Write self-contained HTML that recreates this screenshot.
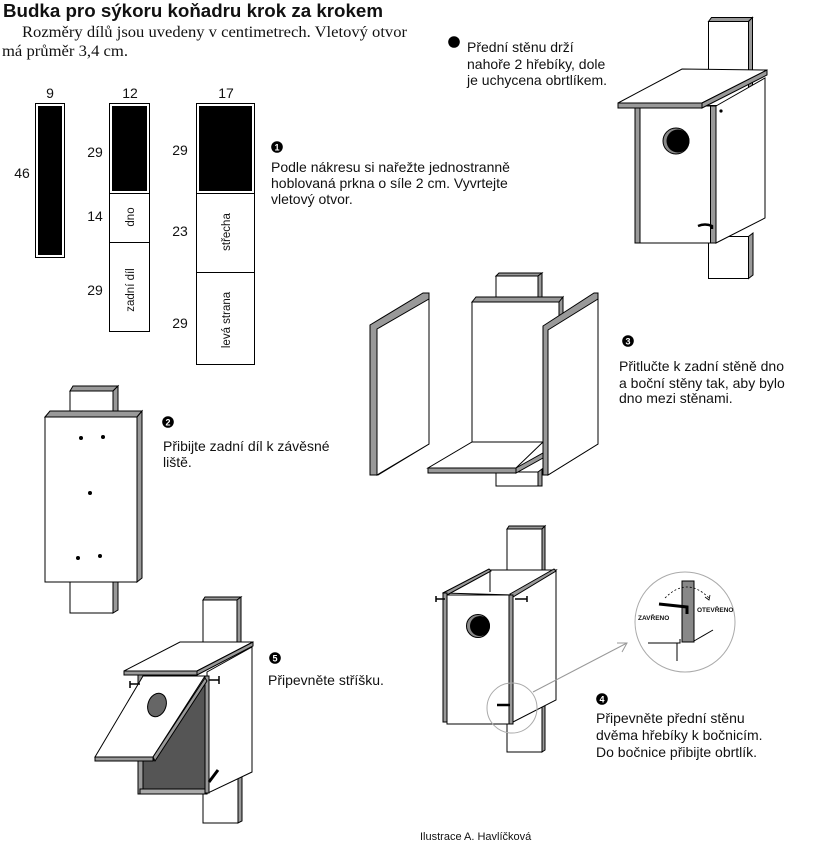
<!DOCTYPE html>
<html><head><meta charset="utf-8"><style>
html,body{margin:0;padding:0;background:#fff;}
svg{display:block;}
text{font-family:"Liberation Sans",Arial,sans-serif;fill:#111;}
.s{font-size:14px;}
.d{font-size:14px;}
.r{font-size:11.5px;}
.g{fill:#999;stroke:#000;stroke-width:1;}
.w{fill:#fff;stroke:#000;stroke-width:1;}
.k{fill:#000;}
</style></head><body>
<svg width="814" height="843" viewBox="0 0 814 843" xmlns="http://www.w3.org/2000/svg">
<rect x="0" y="0" width="814" height="843" fill="#fff"/>

<!-- Header -->
<text x="3" y="17" style="font-size:18px;font-weight:bold" textLength="380" lengthAdjust="spacingAndGlyphs">Budka pro sýkoru koňadru krok za krokem</text>
<text x="22" y="37" style="font-family:'Liberation Serif',serif;font-size:15.5px" textLength="385" lengthAdjust="spacingAndGlyphs">Rozměry dílů jsou uvedeny v centimetrech. Vletový otvor</text>
<text x="2" y="56" style="font-family:'Liberation Serif',serif;font-size:15.5px" textLength="126" lengthAdjust="spacingAndGlyphs">má průměr 3,4 cm.</text>

<!-- Boards -->
<text class="d" x="50" y="98" text-anchor="middle">9</text>
<text class="d" x="130" y="98" text-anchor="middle">12</text>
<text class="d" x="226" y="98" text-anchor="middle">17</text>
<text class="d" x="22" y="178" text-anchor="middle">46</text>
<text class="d" x="95" y="157" text-anchor="middle">29</text>
<text class="d" x="95" y="221" text-anchor="middle">14</text>
<text class="d" x="95" y="295" text-anchor="middle">29</text>
<text class="d" x="180" y="155" text-anchor="middle">29</text>
<text class="d" x="180" y="236" text-anchor="middle">23</text>
<text class="d" x="180" y="328" text-anchor="middle">29</text>

<rect x="35.5" y="103.5" width="29" height="154" class="w"/>
<rect x="38" y="106" width="24" height="149" class="k"/>

<rect x="109.5" y="103.5" width="40" height="228" class="w"/>
<rect x="112" y="106" width="35" height="85" class="k"/>
<line x1="109.5" y1="193.5" x2="149.5" y2="193.5" stroke="#000"/>
<line x1="109.5" y1="242.5" x2="149.5" y2="242.5" stroke="#000"/>
<text class="r" transform="translate(134,217) rotate(-90)" text-anchor="middle">dno</text>
<text class="r" transform="translate(134,290) rotate(-90)" text-anchor="middle">zadní díl</text>

<rect x="196.5" y="103.5" width="58" height="261" class="w"/>
<rect x="199" y="106" width="53" height="85" class="k"/>
<line x1="196.5" y1="193.5" x2="254.5" y2="193.5" stroke="#000"/>
<line x1="196.5" y1="272.5" x2="254.5" y2="272.5" stroke="#000"/>
<text class="r" transform="translate(230,232) rotate(-90)" text-anchor="middle">střecha</text>
<text class="r" transform="translate(230,320) rotate(-90)" text-anchor="middle">levá strana</text>

<!-- Step 1 text -->
<circle cx="277" cy="147" r="5.8" fill="#000"/>
<text x="277" y="150.5" text-anchor="middle" style="font-size:9px;font-weight:bold;fill:#fff">1</text>
<text class="s" x="271" y="172">Podle nákresu si nařežte jednostranně</text>
<text class="s" x="271" y="188">hoblovaná prkna o síle 2 cm. Vyvrtejte</text>
<text class="s" x="271" y="204">vletový otvor.</text>

<!-- Top right note -->
<circle cx="454" cy="42" r="5.8" fill="#000"/>
<text class="s" x="467" y="52">Přední stěnu drží</text>
<text class="s" x="467" y="69">nahoře 2 hřebíky, dole</text>
<text class="s" x="467" y="85">je uchycena obrtlíkem.</text>

<!-- Top right birdhouse -->
<rect x="708.5" y="21.5" width="40" height="84" class="w"/>
<polygon points="708.5,21.5 711.5,17.5 752.5,17.5 748.5,21.5" class="g"/>
<polygon points="748.5,21.5 752.5,17.5 752.5,100 748.5,105" class="g"/>
<rect x="708.5" y="236.5" width="40" height="42" class="w"/>
<polygon points="748.5,236.5 753,233 753,275 748.5,278.5" class="g"/>
<polygon points="716,106 765,78 765,218 716,243" class="w"/>
<rect x="635" y="106" width="81" height="137" class="w"/>
<rect x="635" y="106" width="5" height="137" class="g"/>
<rect x="710.5" y="106" width="5.5" height="137" class="g"/>
<polygon points="618,103 682,69 767,70 702,103" class="w"/>
<polygon points="618,103 702,103 702,108 618,108" class="g"/>
<polygon points="702,103 767,70 767,75 702,108" class="g"/>
<circle cx="676" cy="141" r="13" fill="#888" stroke="#000"/>
<circle cx="678" cy="141" r="11.5" fill="#000"/>
<circle cx="721" cy="111" r="1.6" fill="#000"/>
<path d="M698,226 Q705,223 712,226 L712,229" fill="none" stroke="#000" stroke-width="2.4"/>

<!-- Step 3 -->
<polygon points="370,325 423,293 429,293 429,444 378,475 370,475" class="g"/>
<polygon points="377,329 429,299 429,444 377,475" class="w"/>

<rect x="496" y="276" width="42" height="22" class="w"/>
<polygon points="496,276 499,273 542,273 538,276" class="g"/>
<polygon points="538,276 542,273 542,298 538,298" class="g"/>
<rect x="472" y="302" width="87" height="141" class="w"/>
<polygon points="472,302 476,297 563,297 559,302" class="g"/>
<polygon points="559,302 563,297 563,440 559,443" class="g"/>
<rect x="496" y="472" width="42" height="14" class="w"/>
<polygon points="538,472 542,469 542,486 538,486" class="g"/>
<polygon points="472,442 543,442 516,468 428,468" class="w"/>
<polygon points="428,468 516,468 516,473 428,473" class="g"/>
<polygon points="516,468 543,453 543,458 516,473" class="g"/>

<polygon points="543,326 594,293 598,293 598,444 548,475 543,475" class="g"/>
<polygon points="548,330 598,299 598,444 548,475" class="w"/>

<circle cx="628" cy="341" r="5.8" fill="#000"/>
<text x="628" y="344.5" text-anchor="middle" style="font-size:9px;font-weight:bold;fill:#fff">3</text>
<text class="s" x="619" y="371">Přitlučte k zadní stěně dno</text>
<text class="s" x="619" y="388">a boční stěny tak, aby bylo</text>
<text class="s" x="619" y="403">dno mezi stěnami.</text>

<!-- Step 2 -->
<rect x="70" y="391" width="43" height="22" class="w"/>
<polygon points="70,391 73,386 118,386 113,391" class="g"/>
<polygon points="113,391 118,386 118,412 113,413" class="g"/>
<rect x="70" y="581" width="43" height="32" class="w"/>
<polygon points="113,581 118,581 118,610 113,613" class="g"/>
<rect x="45" y="417" width="92" height="165" class="w"/>
<polygon points="45,417 50,411 142,411 137,417" class="g"/>
<polygon points="137,417 142,411 142,578 137,582" class="g"/>
<circle cx="81" cy="438" r="2" fill="#000"/>
<circle cx="103" cy="437" r="2" fill="#000"/>
<circle cx="90" cy="493" r="2" fill="#000"/>
<circle cx="78" cy="558" r="2" fill="#000"/>
<circle cx="100" cy="556" r="2" fill="#000"/>

<circle cx="168" cy="422" r="5.8" fill="#000"/>
<text x="168" y="425.5" text-anchor="middle" style="font-size:9px;font-weight:bold;fill:#fff">2</text>
<text class="s" x="163" y="451">Přibijte zadní díl k závěsné</text>
<text class="s" x="163" y="467">lištĕ.</text>

<!-- Step 5 -->
<rect x="203" y="600" width="34" height="45" class="w"/>
<polygon points="203,600 205,597 241,597 237,600" class="g"/>
<polygon points="237,600 241,597 241,645 237,645" class="g"/>
<rect x="203" y="770" width="35" height="53" class="w"/>
<polygon points="238,770 242,768 242,821 238,823" class="g"/>
<polygon points="207,672 252,647 252,772 208,793" class="w"/>
<polygon points="143,761 153,761 205,683 205,790 143,790" fill="#555" stroke="#000"/>
<rect x="138" y="675" width="5" height="119" class="g"/>
<rect x="140" y="789" width="67" height="5" fill="#aaa" stroke="#000"/>
<rect x="205" y="676" width="4" height="117" class="g"/>
<polygon points="143,676 205,676 153,757 95,757" class="w"/>
<polygon points="95,757 153,757 153,761 95,761" class="g"/>
<polygon points="153,757 205,678 207,681 155,761" class="g"/>
<polygon points="124,671 180,642 253,642 197,671" class="w"/>
<polygon points="124,671 197,671 197,675 124,675" class="g"/>
<polygon points="197,671 253,642 253,646 197,675" class="g"/>
<ellipse cx="157" cy="705" rx="9" ry="12" transform="rotate(20 157 705)" fill="#666" stroke="#000"/>
<line x1="130" y1="684" x2="140" y2="684" stroke="#000" stroke-width="1.5"/>
<line x1="130" y1="681" x2="130" y2="688" stroke="#000" stroke-width="1.5"/>
<line x1="209" y1="680" x2="219" y2="680" stroke="#000" stroke-width="1.5"/>
<line x1="219" y1="676" x2="219" y2="684" stroke="#000" stroke-width="1.5"/>
<line x1="209" y1="782" x2="218" y2="770" stroke="#000" stroke-width="3"/>

<circle cx="275" cy="658" r="5.8" fill="#000"/>
<text x="275" y="661.5" text-anchor="middle" style="font-size:9px;font-weight:bold;fill:#fff">5</text>
<text class="s" x="268" y="685">Připevněte stříšku.</text>

<!-- Step 4 -->
<rect x="507" y="529" width="35" height="42" class="w"/>
<polygon points="507,529 509,526 545,526 542,529" class="g"/>
<polygon points="542,529 545,526 545,571 542,571" class="g"/>
<polygon points="443,593 490,570 556,570 513,595" class="w"/>
<line x1="490" y1="570" x2="490" y2="592" stroke="#000"/>
<rect x="507" y="700" width="35" height="52" class="w"/>
<polygon points="542,700 545,699 545,750 542,752" class="g"/>
<polygon points="513,595 556,570 556,700 513,722" class="w"/>
<polygon points="510,594 554,569 556,571 513,597" class="g"/>
<polygon points="443,593 489,569 491,571 447,595" class="g"/>
<rect x="443" y="593" width="4" height="129" class="g"/>
<rect x="447" y="595" width="62" height="129" class="w"/>
<rect x="509" y="595" width="4" height="129" class="g"/>
<circle cx="478" cy="626" r="11.5" fill="#888" stroke="#000"/>
<circle cx="480" cy="626" r="10" fill="#000"/>
<line x1="436" y1="599" x2="445" y2="599" stroke="#000" stroke-width="1.5"/>
<line x1="436" y1="596" x2="436" y2="602" stroke="#000" stroke-width="1.5"/>
<line x1="515" y1="599" x2="527" y2="599" stroke="#000" stroke-width="1.5"/>
<line x1="527" y1="596" x2="527" y2="602" stroke="#000" stroke-width="1.5"/>
<line x1="497" y1="705" x2="510" y2="705" stroke="#000" stroke-width="2.5"/>
<circle cx="512" cy="708" r="25" fill="none" stroke="#aaa" stroke-width="1"/>
<line x1="533" y1="692" x2="627" y2="643" stroke="#999" stroke-width="1"/>
<polyline points="617,643 627,643 622,652" fill="none" stroke="#999" stroke-width="1"/>

<!-- detail circle -->
<circle cx="685" cy="622" r="50" fill="#fff" stroke="#aaa" stroke-width="1"/>
<rect x="682" y="581" width="12" height="61" fill="#888" stroke="#000"/>
<polyline points="648,643 680,643 680,639" fill="none" stroke="#000" stroke-width="1"/>
<line x1="677" y1="643" x2="677" y2="661" stroke="#000"/>
<line x1="694" y1="641" x2="713" y2="630" stroke="#000"/>
<path d="M659,604 L687,607 L687,614" fill="none" stroke="#000" stroke-width="3"/>
<path d="M665,598 Q687,576 709,598" fill="none" stroke="#000" stroke-width="0.8" stroke-dasharray="2,2"/>
<polyline points="705,597 709,600 710,595" fill="none" stroke="#000" stroke-width="0.8"/>
<text x="638" y="620" style="font-size:6.5px;font-weight:bold">ZAVŘENO</text>
<text x="697" y="612" style="font-size:6.5px;font-weight:bold">OTEVŘENO</text>

<circle cx="602" cy="699" r="5.8" fill="#000"/>
<text x="602" y="702.5" text-anchor="middle" style="font-size:9px;font-weight:bold;fill:#fff">4</text>
<text class="s" x="596" y="723">Připevněte přední stěnu</text>
<text class="s" x="596" y="740">dvěma hřebíky k bočnicím.</text>
<text class="s" x="596" y="757">Do bočnice přibijte obrtlík.</text>

<text x="420" y="840" style="font-size:11px">Ilustrace A. Havlíčková</text>
</svg>
</body></html>
